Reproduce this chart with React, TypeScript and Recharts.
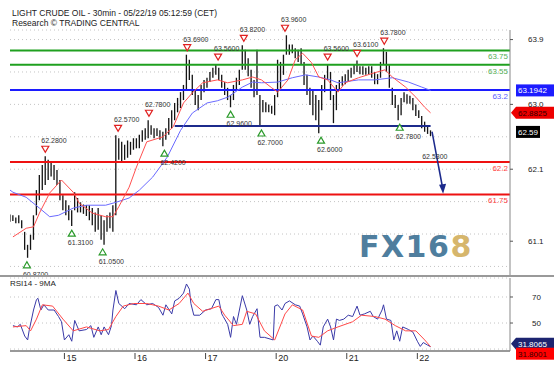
import React from "react";
import {
	ComposedChart, Bar, Line, XAxis, YAxis, CartesianGrid, ReferenceLine, ReferenceDot,
} from "recharts";

const FONT = "'Liberation Sans', Arial, sans-serif";

// hourly bars (t = 30min bar index, one point per hour)
const hourLow = [
	61.37, 61.38, 61.35, 61.35, 61.28, 60.98, 60.87, 60.98, 61.12, 61.46,
	61.67, 61.81, 61.88, 61.95, 62.0, 61.95, 61.88, 61.67, 61.53, 61.46,
	61.39, 61.31, 61.53, 61.5, 61.5, 61.48, 61.45, 61.39, 61.32, 61.23,
	61.26, 61.12, 61.05, 61.23, 61.28, 61.23, 61.46, 62.23, 62.2, 62.23,
	62.26, 62.3, 62.37, 62.39, 62.39, 62.48, 62.51, 62.53, 62.58, 62.53,
	62.56, 62.51, 62.42, 62.51, 62.58, 62.67, 62.78, 62.89, 62.95, 63.06,
	63.2, 63.34, 63.13, 62.99, 62.92, 63.06, 63.17, 63.23, 63.31, 63.37,
	63.41, 63.34, 63.23, 63.13, 63.06, 62.96, 63.06, 63.2, 63.27, 63.48,
	63.48, 63.39, 63.23, 63.1, 63.13, 62.7, 62.89, 62.89, 62.89, 62.87,
	62.85, 63.1, 63.2, 63.41, 63.69, 63.69, 63.71, 63.64, 63.59, 63.55,
	63.27, 63.13, 62.99, 62.85, 62.78, 62.6, 62.92, 63.17, 63.34, 63.06,
	62.74, 62.92, 63.2, 63.26, 63.28, 63.31, 63.37, 63.42, 63.45, 63.42,
	63.41, 63.41, 63.42, 63.37, 63.28, 63.28, 63.37, 63.55, 63.45, 63.23,
	62.99, 62.95, 62.78, 62.85, 63.03, 63.01, 63.01, 62.92, 62.84, 62.81,
	62.67, 62.62, 62.59, 62.56,
];
const hourHigh = [
	61.47, 61.46, 61.43, 61.46, 61.39, 61.23, 61.05, 61.19, 61.46, 61.81,
	62.02, 62.16, 62.28, 62.23, 62.2, 62.16, 62.09, 61.95, 61.74, 61.67,
	61.6, 61.53, 61.78, 61.7, 61.64, 61.61, 61.6, 61.6, 61.56, 61.5,
	61.56, 61.46, 61.39, 61.46, 61.5, 61.6, 62.57, 62.53, 62.48, 62.44,
	62.5, 62.48, 62.53, 62.53, 62.58, 62.64, 62.67, 62.78, 62.71, 62.67,
	62.67, 62.64, 62.62, 62.67, 62.81, 62.92, 63.02, 63.09, 63.17, 63.27,
	63.69, 63.62, 63.41, 63.2, 63.13, 63.27, 63.34, 63.37, 63.45, 63.51,
	63.56, 63.51, 63.41, 63.31, 63.23, 63.13, 63.27, 63.37, 63.48, 63.82,
	63.76, 63.64, 63.48, 63.34, 63.76, 63.13, 63.06, 63.03, 63.0, 62.98,
	63.13, 63.62, 63.59, 63.69, 63.96, 63.83, 63.83, 63.78, 63.76, 63.78,
	63.59, 63.41, 63.23, 63.2, 63.13, 63.06, 63.27, 63.41, 63.56, 63.45,
	63.13, 63.27, 63.34, 63.39, 63.42, 63.48, 63.51, 63.56, 63.61, 63.53,
	63.53, 63.51, 63.53, 63.53, 63.45, 63.42, 63.59, 63.78, 63.73, 63.55,
	63.23, 63.13, 62.99, 63.09, 63.17, 63.14, 63.12, 63.09, 63.0, 62.92,
	62.84, 62.76, 62.71, 62.64,
];

// moving averages [t, value]
const fastMa = [
	[2, 61.16], [11, 61.28], [16, 61.3], [20, 61.49], [27, 61.77], [35, 61.95], [43, 61.78],
	[47, 61.63], [56, 61.49], [65, 61.44], [70, 61.44], [74, 61.58], [81, 61.85], [86, 62.13],
	[93, 62.48], [104, 62.55], [111, 62.69], [118, 63.02], [124, 63.16], [131, 63.3], [141, 63.34],
	[148, 63.3], [158, 63.34], [165, 63.38], [171, 63.34], [178, 63.23], [182, 63.17], [189, 63.34],
	[194, 63.62], [199, 63.71], [205, 63.58], [210, 63.38], [216, 63.34], [223, 63.17], [228, 63.3],
	[237, 63.37], [248, 63.44], [255, 63.48], [260, 63.38], [269, 63.24], [276, 63.1], [282, 62.96],
	[286, 62.8825],
];
const slowMa = [
	[0, 61.81], [2, 61.78], [11, 61.71], [20, 61.56], [27, 61.44], [33, 61.46], [43, 61.56],
	[52, 61.6], [65, 61.6], [72, 61.64], [81, 61.7], [88, 61.81], [97, 61.99], [107, 62.27],
	[116, 62.64], [124, 62.88], [134, 63.02], [141, 63.05], [148, 63.1], [158, 63.24], [165, 63.31],
	[171, 63.3], [182, 63.31], [192, 63.37], [201, 63.41], [210, 63.38], [218, 63.34], [223, 63.3],
	[237, 63.34], [248, 63.34], [260, 63.37], [271, 63.31], [280, 63.24], [286, 63.1942],
];

// RSI14 and its 9MA [t, value]
const rsi = [
	[2, 48], [5, 47], [7, 49], [10, 40], [12, 37], [13, 44], [16, 60], [18, 68], [19, 69], [21, 60],
	[23, 64], [26, 60], [30, 60], [33, 55], [35, 51], [37, 37], [40, 41], [42, 36], [44, 52], [47, 44],
	[52, 45], [55, 48], [57, 39], [60, 47], [62, 41], [64, 47], [67, 41], [69, 48], [70, 60], [72, 75],
	[74, 65], [78, 61], [81, 65], [86, 64], [89, 68], [93, 64], [97, 65], [101, 62], [104, 56], [106, 64],
	[110, 57], [112, 67], [115, 69], [118, 73], [120, 80], [122, 76], [123, 65], [125, 56], [129, 56],
	[133, 60], [137, 61], [140, 68], [142, 68], [144, 57], [145, 55], [148, 49], [150, 39], [152, 55],
	[154, 49], [156, 60], [158, 71], [161, 60], [163, 49], [165, 55], [168, 61], [170, 39], [173, 39],
	[179, 37], [180, 63], [182, 64], [185, 60], [187, 65], [190, 67], [194, 64], [197, 63], [199, 57],
	[202, 47], [204, 37], [206, 40], [209, 36], [211, 33], [213, 47], [216, 53], [218, 47], [220, 37],
	[222, 53], [224, 52], [227, 53], [230, 56], [233, 55], [236, 63], [238, 56], [241, 57], [245, 59],
	[247, 55], [250, 53], [253, 60], [254, 64], [256, 53], [259, 52], [261, 37], [263, 44], [265, 36],
	[267, 47], [271, 45], [274, 43], [277, 36], [279, 32], [281, 35], [284, 33], [286, 31.8065],
];
const rsiMa = [
	[2, 47], [11, 48], [14, 44], [18, 53], [22, 64], [29, 63], [36, 53], [43, 44], [52, 47], [61, 44],
	[67, 45], [72, 55], [77, 63], [84, 65], [93, 65], [101, 63], [108, 60], [115, 65], [121, 73],
	[125, 65], [131, 59], [142, 63], [146, 56], [152, 48], [158, 49], [161, 59], [167, 57], [173, 44],
	[180, 37], [187, 57], [192, 64], [199, 60], [205, 40], [210, 39], [216, 44], [223, 47], [233, 51],
	[239, 56], [248, 55], [255, 53], [262, 48], [269, 44], [276, 44], [282, 37], [286, 31.8001],
];

const priceTicks = [63.9, 63.0, 62.1, 61.1];
const gridPrices = [63.9, 63.675, 63.45, 63.225, 63.0, 62.775, 62.55, 62.325, 62.1, 61.875, 61.65, 61.425, 61.2, 60.975, 60.75];
const rsiTicks = [70, 50];
const rsiGrid = [80, 70, 60, 50, 40, 30];
const dayTicks = [37, 85, 133, 181, 229, 277];
const dayLabels = ["15", "16", "17", "20", "21", "22"];

const highMarks = [
	[24, 62.28], [73.5, 62.57], [94.5, 62.78], [120.5, 63.69], [141.5, 63.56],
	[159, 63.82], [187, 63.96], [216, 63.56], [236, 63.61], [254.5, 63.78],
];
const lowMarks = [
	[11.5, 60.87], [42, 61.31], [63, 61.05], [105, 62.42], [150, 62.96],
	[171, 62.7], [211.5, 62.6], [265, 62.78],
];

const bars = hourLow.map((lo, i) => ({ t: i * 2, range: [lo, hourHigh[i]] }));
const toRows = (arr: number[][]) => arr.map(([t, v]) => ({ t, v }));

const levelLabel = (text: string, color: string) => (props: any) => {
	const vb = props.viewBox;
	return <text x={vb.x + vb.width - 2} y={vb.y + 9} textAnchor="end" fontSize={8} fill={color} fontFamily={FONT}>{text}</text>;
};

const boxTag = (text: string, bg: string, fg: string, w: number, dy = 0, arrow = false) => (props: any) => {
	const vb = props.viewBox;
	const x0 = vb.x + vb.width;
	const y = vb.y + dy;
	return (
		<g>
			{arrow
				? <polygon points={`${x0 + 1},${y} ${x0 + 6},${y - 6} ${x0 + 6 + w},${y - 6} ${x0 + 6 + w},${y + 6} ${x0 + 6},${y + 6}`} fill={bg} />
				: <rect x={x0 + 6} y={y - 6} width={w} height={12} fill={bg} />}
			<text x={x0 + 8} y={y + 3} fontSize={8} fill={fg} fontFamily={FONT}>{text}</text>
		</g>
	);
};

const HighMark = (p: any, price: number) => (
	<g>
		<polygon points={`${p.cx - 3.5},${p.cy - 10} ${p.cx + 3.5},${p.cy - 10} ${p.cx},${p.cy - 4}`} fill="#fff" stroke="#e02020" strokeWidth={1.2} />
		<text x={p.cx - 4} y={p.cy - 13} fontSize={7} fill="#333" fontFamily={FONT}>{price.toFixed(4)}</text>
	</g>
);
const LowMark = (p: any, price: number) => (
	<g>
		<polygon points={`${p.cx - 3.5},${p.cy + 10} ${p.cx + 3.5},${p.cy + 10} ${p.cx},${p.cy + 4}`} fill="#fff" stroke="#2a9a2a" strokeWidth={1.2} />
		<text x={p.cx - 4} y={p.cy + 19} fontSize={7} fill="#333" fontFamily={FONT}>{price.toFixed(4)}</text>
	</g>
);

const DayTick = (props: any) => {
	const { x, y, payload } = props;
	const label = dayLabels[dayTicks.indexOf(payload.value)];
	return (
		<g>
			<line x1={x} x2={x} y1={y} y2={y + 6} stroke="#444" />
			<text x={x + 2} y={y + 8} fontSize={9} fill="#222" fontFamily={FONT}>{label}</text>
		</g>
	);
};

export default function App() {
	return (
		<div style={{ position: "absolute", left: 0, top: 0, width: 554, height: 366, background: "#fff", fontFamily: FONT, overflow: "hidden" }}>
			<div style={{ position: "absolute", left: 12, top: 8, fontSize: 8.5, lineHeight: "10px", color: "#222" }}>
				<div>LIGHT CRUDE OIL - 30min - 05/22/19 05:12:59 (CET)</div>
				<div>Research © TRADING CENTRAL</div>
			</div>

			<div style={{ position: "absolute", left: 359, top: 230, fontFamily: "'DejaVu Sans', sans-serif", fontWeight: "bold", fontSize: 30, lineHeight: "34px", letterSpacing: 1.5, whiteSpace: "nowrap" }}>
				<span style={{ color: "#4f7e9e" }}>FX16</span><span style={{ color: "#d6b66c" }}>8</span>
			</div>

			<div style={{ position: "absolute", left: 0, top: 0 }}>
				<ComposedChart width={554} height={277} data={bars} margin={{ top: 30, right: 0, bottom: 1, left: 10 }}>
					<XAxis type="number" dataKey="t" domain={[0, 340]} allowDataOverflow hide />
					<YAxis yAxisId="g" hide domain={[60.617, 64.033]} allowDataOverflow ticks={gridPrices} />
					<CartesianGrid yAxisId="g" vertical={false} stroke="#c4c4c4" strokeDasharray="1 3" />
					<YAxis orientation="right" domain={[60.617, 64.033]} allowDataOverflow ticks={priceTicks} interval={0}
						width={44} axisLine={{ stroke: "#888" }} tickLine={{ stroke: "#555" }} tickSize={3} tickMargin={15}
						tick={{ fontSize: 8, fill: "#222", fontFamily: FONT }} tickFormatter={(v: number) => v.toFixed(1)} />

					<ReferenceLine y={63.75} stroke="#1fa01f" strokeWidth={2} label={levelLabel("63.75", "#55b055")} />
					<ReferenceLine y={63.55} stroke="#1fa01f" strokeWidth={2} label={levelLabel("63.55", "#55b055")} />
					<ReferenceLine y={63.2} stroke="#1c1cff" strokeWidth={2} label={levelLabel("63.2", "#5a5aff")} />
					<ReferenceLine y={62.2} stroke="#ee1111" strokeWidth={2} label={levelLabel("62.2", "#ff4040")} />
					<ReferenceLine y={61.75} stroke="#ee1111" strokeWidth={2} label={levelLabel("61.75", "#ff4040")} />
					<ReferenceLine segment={[{ x: 112, y: 62.7 }, { x: 286, y: 62.7 }]} stroke="#1c2a8c" strokeWidth={2} />

					<Line data={toRows(slowMa)} dataKey="v" stroke="#6a6aff" strokeWidth={1} dot={false} isAnimationActive={false} />
					<Line data={toRows(fastMa)} dataKey="v" stroke="#ff5050" strokeWidth={1} dot={false} isAnimationActive={false} />
					<Bar dataKey="range" fill="#151515" barSize={2.6} isAnimationActive={false} />

					{highMarks.map(([t, p]) => (
						<ReferenceDot key={"h" + t} x={t} y={p} r={0} shape={(s: any) => HighMark(s, p)} />
					))}
					{lowMarks.map(([t, p]) => (
						<ReferenceDot key={"l" + t} x={t} y={p} r={0} shape={(s: any) => LowMark(s, p)} />
					))}
					<ReferenceDot x={283} y={62.53} r={0} shape={(s: any) => (
						<text x={s.cx - 4} y={s.cy + 21} fontSize={7} fill="#333" fontFamily={FONT}>62.5300</text>
					)} />

					<ReferenceLine segment={[{ x: 287, y: 62.62 }, { x: 294, y: 61.86 }]} stroke="#1c2a8c" strokeWidth={1.5} />
					<ReferenceDot x={294.5} y={61.76} r={0} shape={(s: any) => (
						<polygon points={`${s.cx - 4},${s.cy - 9} ${s.cx + 3},${s.cy - 10} ${s.cx},${s.cy}`} fill="#1c2a8c" />
					)} />

					<ReferenceLine y={63.1942} stroke="none" label={boxTag("63.1942", "#1c1cff", "#fff", 38)} />
					<ReferenceLine y={62.8825} stroke="none" label={boxTag("62.8825", "#ee0000", "#300", 38, 0, true)} />
					<ReferenceLine y={62.59} stroke="none" label={boxTag("62.59", "#000", "#fff", 24, -2)} />
				</ComposedChart>
			</div>

			<div style={{ position: "absolute", left: 0, top: 275, width: 554, height: 2, background: "#999" }} />

			<div style={{ position: "absolute", left: 0, top: 277 }}>
				<ComposedChart width={554} height={89} data={toRows(rsi)} margin={{ top: 1, right: 0, bottom: 0, left: 10 }}>
					<XAxis type="number" dataKey="t" domain={[0, 340]} allowDataOverflow ticks={dayTicks} interval={0}
						height={15} axisLine={{ stroke: "#999", strokeWidth: 2 }} tickLine={false} tickSize={0} tick={DayTick} />
					<YAxis yAxisId="g" hide domain={[28.5, 84.6]} allowDataOverflow ticks={rsiGrid} />
					<CartesianGrid yAxisId="g" vertical={false} stroke="#c4c4c4" strokeDasharray="1 3" />
					<YAxis orientation="right" domain={[28.5, 84.6]} allowDataOverflow ticks={rsiTicks} interval={0}
						width={44} axisLine={{ stroke: "#888" }} tickLine={{ stroke: "#555" }} tickSize={3} tickMargin={19}
						tick={{ fontSize: 8, fill: "#222", fontFamily: FONT }} />
					<Line dataKey="v" stroke="#3a3aa8" strokeWidth={1} dot={false} isAnimationActive={false} />
					<Line data={toRows(rsiMa)} dataKey="v" stroke="#ff4848" strokeWidth={1} dot={false} isAnimationActive={false} />
					<ReferenceLine y={31.8065} stroke="none" label={boxTag("31.8065", "#1c2470", "#fff", 38, -3, true)} />
					<ReferenceLine y={31.8001} stroke="none" label={boxTag("31.8001", "#ff0000", "#300", 38, 7)} />
				</ComposedChart>
			</div>

			<div style={{ position: "absolute", left: 10, top: 279, fontSize: 8, color: "#222" }}>RSI14 - 9MA</div>
		</div>
	);
}
